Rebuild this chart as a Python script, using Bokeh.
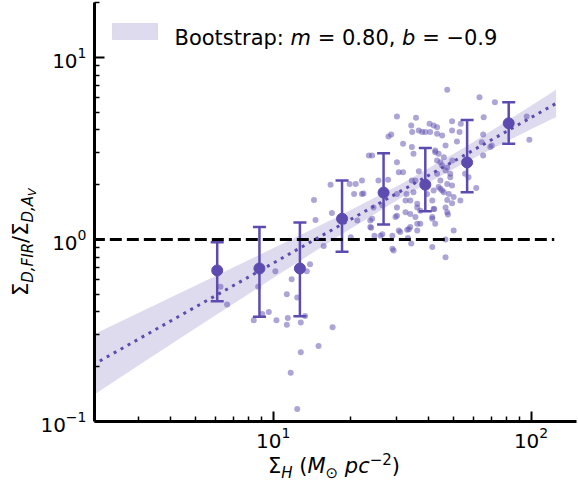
import math
from bokeh.plotting import figure
from bokeh.layouts import row, column
from bokeh.models import (ColumnDataSource, Whisker, TeeHead, Label, BoxAnnotation,
                          FixedTicker, Div)
from bokeh.embed import file_html
from bokeh.resources import INLINE

# ---------------- data ----------------
scatter_x = [
    6.25, 6.63, 8.41, 8.75, 9.07, 9.62, 10.2, 10.3, 11.3, 11.4, 11.3, 11.8, 12.4, 12.8, 13.3, 13.5, 13.9, 12.8, 11.7, 12.4, 15.0, 17.0,
    14.4, 14.6, 15.7, 16.7, 16.9, 19.8, 20.0, 20.9, 21.2, 23.5,
    24.2, 23.8, 24.7, 24.0, 25.6, 26.1, 24.5, 29.8, 29.0, 30.2,
    30.7, 31.9, 29.0, 29.3, 30.7, 30.2, 32.6, 33.6, 31.9, 34.5,
    35.0, 32.9, 34.0, 34.5, 35.6, 36.2, 34.0, 35.6, 36.2, 35.0,
    41.4, 41.4, 39.5, 41.9, 42.1, 43.2, 44.5, 43.2, 42.5, 43.8,
    45.9, 46.6, 47.3, 48.0, 47.3, 46.6, 50.1, 49.5, 48.6, 53.2,
    55.5, 57.2, 46.6, 45.2, 44.5,
    30.2, 35.8, 34.3, 40.4, 41.9, 43.2, 36.7, 34.6, 37.8, 38.9, 40.6, 43.2, 28.0, 28.7, 36.7, 27.9,
    47.3, 63.1, 72.4, 65.5, 49.4, 53.4, 49.4, 52.8, 65.2, 96.2, 98.5, 51.6, 64.4, 70.4, 69.5, 45.2, 65.2,
    61.3, 49.4, 45.9, 47.3, 49.4, 47.6, 46.6,
    34.3, 26.5, 31.1, 33.1, 37.2, 36.2, 34.0, 30.2, 23.8, 24.2, 22.4, 30.2, 32.6, 36.2, 37.2, 41.4, 42.5, 33.3,
    22.1, 26.5, 20.6, 22.1, 42.5, 44.5, 47.3, 48.6, 43.8, 45.2, 50.1, 46.6, 41.9, 41.4,
]
scatter_y = [
    0.55, 0.44, 0.36, 0.55, 0.39, 0.40, 0.67, 0.36, 0.50, 0.37, 0.34, 0.605, 0.48, 0.35, 0.38, 0.67, 0.73, 0.24, 0.185, 0.117, 0.26, 0.33,
    1.65, 1.28, 0.92, 2.00, 1.40, 2.02, 1.03, 2.02, 1.27, 2.89,
    2.89, 1.27, 1.05, 1.16, 2.11, 1.05, 1.50, 1.33, 1.05, 2.66,
    2.34, 2.34, 0.89, 0.87, 1.12, 1.50, 1.41, 1.14, 3.36, 3.22,
    2.96, 1.78, 1.64, 2.11, 2.11, 1.50, 1.17, 1.33, 1.12, 1.82,
    0.91, 1.64, 1.78, 1.86, 1.47, 2.30, 2.11, 2.72, 3.08, 2.96,
    2.83, 2.39, 2.02, 1.78, 1.41, 0.80, 1.12, 2.72, 2.30, 1.64,
    2.30, 2.20, 3.28, 2.55, 1.90,
    4.74, 4.66, 4.23, 4.32, 4.23, 4.14, 3.97, 3.89, 3.89, 3.89, 3.89, 3.81, 3.68, 3.77, 2.37, 2.13,
    6.65, 6.05, 5.68, 4.70, 4.47, 4.32, 3.97, 3.89, 3.77, 4.74, 3.53, 3.46, 3.42, 3.28, 3.22, 3.73, 2.89,
    1.92, 1.98, 1.82, 1.65, 1.58, 1.37, 1.00,
    0.95, 1.07, 1.10, 1.13, 1.22, 1.22, 1.38, 1.35, 1.17, 1.30, 1.79, 1.78, 1.64, 1.57, 1.44, 1.33, 1.22, 1.02,
    2.11, 1.54, 1.78, 1.78, 3.02, 2.66, 2.49, 2.20, 1.94, 1.86, 1.71, 1.50, 1.47, 1.30,
]

bin_x = [6.07, 8.85, 12.7, 18.5, 26.8, 38.9, 56.5, 81.9]
bin_y = [0.676, 0.693, 0.693, 1.30, 1.81, 2.00, 2.65, 4.35]
bin_hi = [0.966, 1.17, 1.24, 2.11, 2.98, 3.18, 4.54, 5.68]
bin_lo = [0.458, 0.376, 0.379, 0.857, 1.21, 1.43, 1.82, 3.36]

band_x = [2.0, 3.16, 5.62, 10.0, 17.8, 31.6, 56.2, 100.0, 125.0]
band_lo = [0.139, 0.213, 0.362, 0.614, 1.034, 1.706, 2.677, 4.032, 4.71]
band_hi = [0.299, 0.408, 0.604, 0.895, 1.335, 2.032, 3.253, 5.427, 6.64]

fit_m = 0.80
fit_b = -0.93
fit_x = [2.0, 125.0]
hline_x = [2.0, 123.0]
hline_y = [1.0, 1.0]

x_major = [10, 100]
x_minor = [3, 4, 5, 6, 7, 8, 9, 20, 30, 40, 50, 60, 70, 80, 90]
y_major = [0.1, 1, 10]
y_minor = [0.2, 0.3, 0.4, 0.5, 0.6, 0.7, 0.8, 0.9, 2, 3, 4, 5, 6, 7, 8, 9, 20]

NB = "\u00a0"
legend_text = ["Bootstrap:" + NB, "m", NB + "=" + NB + "0.80," + NB, "b", NB + "=" + NB + "\u22120.9"]
legend_style = ["normal", "italic", "normal", "italic", "normal"]

# ---------------- style ----------------
PURPLE = "#5d4bb0"
FONT = "DejaVu Sans"

W = {' ': 0.318, NB: 0.318, '(': 0.390, ')': 0.390, ',': 0.318, '.': 0.318, '/': 0.337,
     ':': 0.337, '=': 0.838, 'B': 0.686, 'a': 0.613, 'b': 0.635, 'm': 0.974, 'o': 0.612,
     'p': 0.635, 'r': 0.411, 's': 0.521, 't': 0.392, '\u2212': 0.838}


def tw(s, size):
    return sum(W.get(c, 0.636) for c in s) * size


p = figure(width=542, height=456, x_axis_type="log", y_axis_type="log",
           x_range=(2.03, 150), y_range=(0.1, 20.05),
           output_backend="svg", toolbar_location=None,
           min_border_left=58, min_border_right=2, min_border_top=2, min_border_bottom=35)
p.outline_line_color = None
p.grid.visible = False
p.background_fill_color = "white"
p.border_fill_color = "white"

p.varea(x=band_x, y1=band_lo, y2=band_hi, fill_color=PURPLE, fill_alpha=0.2)
p.scatter(scatter_x, scatter_y, size=6, fill_color=PURPLE, fill_alpha=0.5, line_color=None)
p.line(hline_x, hline_y, line_color="black", line_width=3, line_dash="12 5")
fit_y = [10 ** fit_b * x ** fit_m for x in fit_x]
p.line(fit_x, fit_y, line_color=PURPLE, line_width=3, line_dash="3 5")

src = ColumnDataSource(dict(x=bin_x, y=bin_y, lo=bin_lo, hi=bin_hi))
wh = Whisker(source=src, base="x", lower="lo", upper="hi", dimension="height",
             line_color=PURPLE, line_width=2.5,
             lower_head=TeeHead(size=13, line_color=PURPLE, line_width=2.5),
             upper_head=TeeHead(size=13, line_color=PURPLE, line_width=2.5))
p.add_layout(wh)
p.scatter("x", "y", source=src, size=11, fill_color=PURPLE, line_color=PURPLE)

p.xaxis.ticker = FixedTicker(ticks=x_major, minor_ticks=x_minor)
p.yaxis.ticker = FixedTicker(ticks=y_major, minor_ticks=y_minor)
for ax in (p.xaxis, p.yaxis):
    ax.axis_line_width = 3
    ax.axis_line_color = "black"
    ax.major_tick_in = 10
    ax.major_tick_out = 0
    ax.minor_tick_in = 5
    ax.minor_tick_out = 0
    ax.major_tick_line_width = 2
    ax.minor_tick_line_width = 1.5
    ax.major_tick_line_color = "black"
    ax.minor_tick_line_color = "black"
    ax.major_label_text_font = FONT
    ax.major_label_text_font_size = "20px"
    ax.major_label_text_color = "black"
p.xaxis.major_label_standoff = 5
p.yaxis.major_label_standoff = 8

# legend (inside the frame)
p.add_layout(BoxAnnotation(left=18, right=63, bottom=382, top=398,
                           left_units="screen", right_units="screen",
                           bottom_units="screen", top_units="screen",
                           fill_color=PURPLE, fill_alpha=0.2,
                           line_color=PURPLE, line_alpha=0.12, line_width=1))
cur = 80.0
for t, s in zip(legend_text, legend_style):
    p.add_layout(Label(x=cur, y=384, x_units="screen", y_units="screen", text=t,
                       text_font=FONT, text_font_size="21px", text_font_style=s,
                       text_align="left", text_baseline="alphabetic", text_color="black"))
    cur += tw(t, 21)

# axis labels with sub/superscripts
FSTY = "font-family:'DejaVu Sans';font-size:21px;color:#000;white-space:nowrap;"
SUB_I = "font-size:15px;font-style:italic;position:relative;top:5px;"
SUB_N = "font-size:15px;position:relative;top:5px;"
SUP_N = "font-size:15px;position:relative;top:-8px;"
SUBSUB = "font-size:11px;position:relative;top:3px;"

y_label_html = (
    '<div style="position:relative;width:36px;height:456px;">'
    '<div style="position:absolute;left:11px;top:296px;transform:rotate(-90deg);'
    'transform-origin:0 0;line-height:21px;' + FSTY + '">'
    '\u03a3<span style="' + SUB_I + '">D,FIR</span>/\u03a3<span style="' + SUB_I + '">D,A'
    '<span style="' + SUBSUB + '">V</span></span></div></div>')

x_label_html = (
    '<div style="position:relative;width:578px;height:30px;">'
    '<div style="position:absolute;left:268px;top:3px;line-height:14px;' + FSTY + '">'
    '\u03a3<span style="' + SUB_I + '">H</span>&nbsp;(<i>M</i>'
    '<span style="' + SUB_N + '">\u2299</span>&nbsp;<i>pc</i>'
    '<span style="' + SUP_N + '">\u22122</span>)</div></div>')

ydiv = Div(text=y_label_html, width=36, height=456, margin=(0, 0, 0, 0))
xdiv = Div(text=x_label_html, width=578, height=30, margin=(0, 0, 0, 0))

layout = column(row(ydiv, p, spacing=0), xdiv, spacing=0)

open("out.html", "w").write(file_html(layout, INLINE))
